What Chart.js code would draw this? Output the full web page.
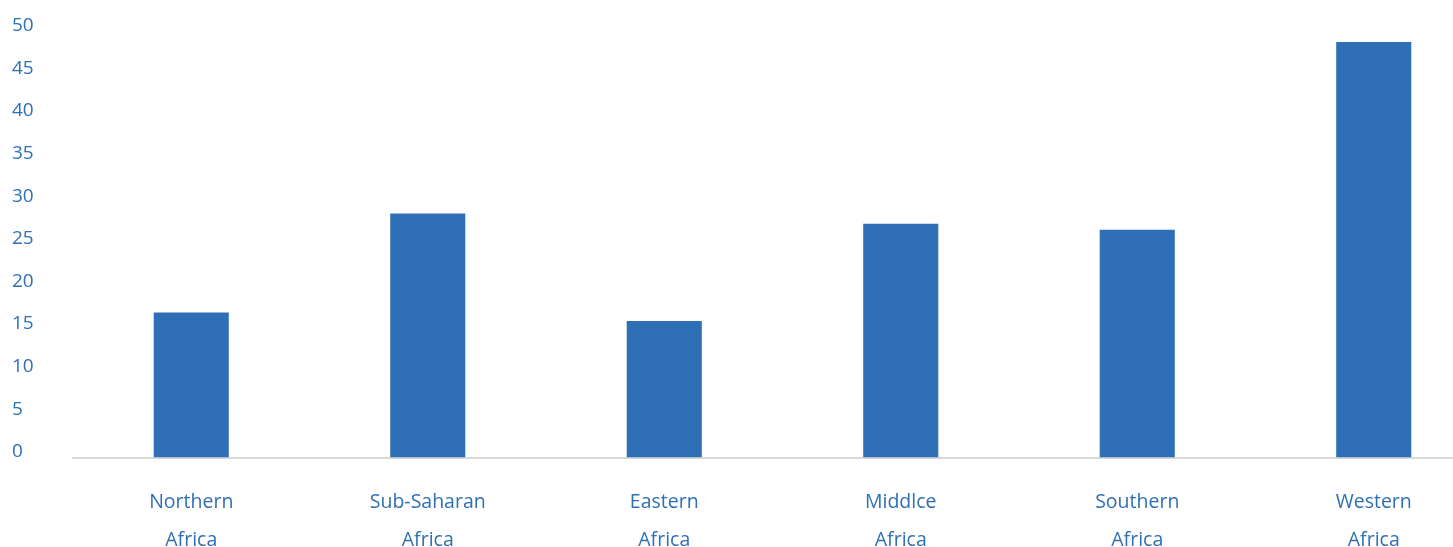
<!DOCTYPE html>
<html>
<head>
<meta charset="utf-8">
<script src="https://cdn.jsdelivr.net/npm/chart.js@4/dist/chart.umd.min.js"></script>
<style>
  html, body { margin: 0; padding: 0; background: #fff; overflow: hidden; }
  .wrap { position: relative; width: 1492px; height: 547px; }
</style>
</head>
<body>
<div class="wrap"><canvas id="regionChart"></canvas></div>
<script>
// Data
const regions = [
  ['Northern', 'Africa'],
  ['Sub-Saharan', 'Africa'],
  ['Eastern', 'Africa'],
  ['Middlce', 'Africa'],
  ['Southern', 'Africa'],
  ['Western', 'Africa']
];
const values = [17.0, 28.6, 16.0, 27.4, 26.7, 48.7];
const yTicks = [0, 5, 10, 15, 20, 25, 30, 35, 40, 45, 50];

const blue = '#2E6FB5';
const family = '"Open Sans", Lato, sans-serif';

const ctx = document.getElementById('regionChart').getContext('2d');
new Chart(ctx, {
  type: 'bar',
  data: {
    labels: regions,
    datasets: [{
      data: values,
      backgroundColor: blue,
      barPercentage: 0.3175,
      categoryPercentage: 1
    }]
  },
  options: {
    responsive: true,
    maintainAspectRatio: false,
    animation: false,
    layout: { padding: { top: 31, left: 12, right: 0, bottom: 0 } },
    plugins: {
      legend: { display: false },
      tooltip: { enabled: false }
    },
    scales: {
      x: {
        grid: { display: false },
        border: { display: true, color: '#d9d9d9', width: 2 },
        ticks: {
          color: blue,
          font: { family: family, size: 19.5, lineHeight: 1.95 },
          padding: 18,
          maxRotation: 0,
          autoSkip: false
        },
        afterFit(scale) { scale.height = 89.5; }
      },
      y: {
        min: 0,
        max: 50,
        grid: { display: false },
        border: { display: false },
        afterBuildTicks(scale) {
          scale.ticks = yTicks.map(v => ({ value: v }));
        },
        afterFit(scale) { scale.width = 61; },
        ticks: {
          color: blue,
          font: { family: family, size: 19 },
          crossAlign: 'far',
          labelOffset: -5.5
        }
      }
    }
  }
});
</script>
</body>
</html>
